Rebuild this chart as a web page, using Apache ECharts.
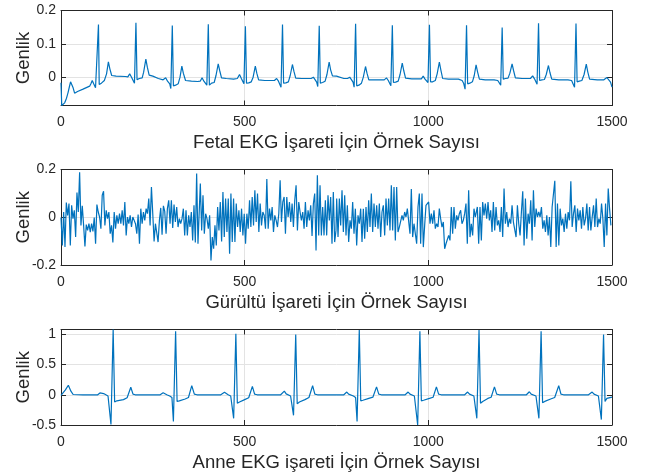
<!DOCTYPE html>
<html><head><meta charset="utf-8">
<script src="https://cdn.jsdelivr.net/npm/echarts@6/dist/echarts.min.js"></script>
<style>html,body{margin:0;padding:0;background:#fff}#c{width:654px;height:473px}</style>
</head><body><div id="c"></div>
<script>
// ---- tick labels / titles ----
const xTicks = [0, 500, 1000, 1500];
const fetalYTicks = [0, 0.1, 0.2];
const noiseYTicks = [-0.2, 0, 0.2];
const motherYTicks = [-0.5, 0, 0.5, 1];
const xTitles = ['Fetal EKG İşareti İçin Örnek Sayısı', 'Gürültü İşareti İçin Örnek Sayısı', 'Anne EKG işareti İçin Örnek Sayısı'];
const yTitle = 'Genlik';

// ---- Fetal ECG vertices [sample, amplitude] ----
const fetalSignal = [
[0,-0.017],[2,-0.085],[6,-0.082],[10,-0.077],[15,-0.063],[19,-0.047],[23,-0.028],[26,-0.014],[28,-0.01],[30,-0.018],[33,-0.032],[37,-0.048],[45,-0.043],[60,-0.036],[72,-0.03],[78,-0.027],[82,-0.018],[85,-0.01],[89,-0.02],[94,-0.032],[99,-0.028],[102,0.158],[104,-0.022],[110,-0.018],[118,-0.01],[124,0.01],[129,0.046],[133,0.025],[138,0.005],[150,0.003],[175,0.002],
[182,0.001],[187,0.01],[192,0.0],[196,-0.005],[200,-0.018],[204,0.163],[207,-0.008],[213,-0.004],[221,-0.002],[225,0.015],[231,0.054],[235,0.03],[240,0.006],[250,0.003],[265,-0.004],
[278,-0.008],[285,-0.002],[290,-0.012],[296,-0.02],[299,-0.034],[303,0.155],[306,-0.026],[312,-0.024],[319,-0.02],[324,0.0],[329,0.033],[333,0.012],[339,-0.01],[355,-0.012],[372,-0.013],
[379,-0.012],[384,-0.002],[389,-0.012],[393,-0.013],[397,-0.024],[401,0.159],[404,-0.024],[410,-0.018],[417,-0.016],[422,0.005],[428,0.04],[432,0.02],[437,-0.002],[450,-0.004],[470,-0.006],
[480,-0.004],[486,0.008],[491,-0.004],[495,-0.008],[498,-0.02],[502,0.153],[505,-0.018],[511,-0.017],[518,-0.014],[523,0.0],[529,0.033],[533,0.012],[538,-0.008],[555,-0.01],[570,-0.01],
[581,-0.01],[587,-0.004],[592,-0.012],[596,-0.018],[599,-0.03],[603,0.158],[606,-0.018],[612,-0.017],[619,-0.014],[624,0.005],[630,0.038],[634,0.018],[639,-0.003],[655,-0.004],[672,-0.004],
[681,-0.004],[687,0.0],[692,-0.008],[696,-0.015],[699,-0.028],[703,0.154],[706,-0.018],[712,-0.016],[719,-0.012],[724,0.008],[730,0.045],[734,0.022],[739,0.004],[750,0.003],[770,-0.004],
[780,-0.004],[786,0.0],[791,-0.008],[795,-0.015],[798,-0.03],[802,0.16],[805,-0.026],[811,-0.024],[818,-0.018],[823,0.0],[829,0.032],[833,0.012],[838,-0.008],[855,-0.008],[870,-0.008],
[880,-0.008],[886,-0.002],[891,-0.01],[895,-0.014],[898,-0.026],[902,0.156],[905,-0.016],[911,-0.015],[918,-0.012],[923,0.008],[929,0.042],[933,0.02],[938,-0.003],[955,-0.005],[970,-0.005],
[981,-0.005],[986,0.003],[991,-0.006],[995,-0.01],[999,-0.016],[1003,0.157],[1006,-0.014],[1012,-0.014],[1019,-0.01],[1024,0.01],[1030,0.045],[1034,0.022],[1039,-0.004],[1055,-0.006],[1072,-0.006],
[1082,-0.006],[1087,-0.004],[1092,-0.01],[1096,-0.018],[1100,-0.036],[1104,0.156],[1107,-0.02],[1113,-0.018],[1120,-0.014],[1125,0.005],[1130,0.037],[1134,0.016],[1139,-0.006],[1155,-0.008],[1170,-0.008],
[1179,-0.008],[1184,-0.003],[1189,-0.01],[1193,-0.014],[1197,-0.024],[1201,0.149],[1204,-0.006],[1210,-0.004],[1217,-0.003],[1222,0.012],[1228,0.04],[1232,0.02],[1237,-0.002],[1255,-0.004],[1270,-0.004],
[1278,-0.004],[1284,0.004],[1289,-0.005],[1293,-0.01],[1296,-0.021],[1300,0.162],[1303,-0.01],[1309,-0.008],[1316,-0.007],[1321,0.008],[1327,0.035],[1331,0.014],[1336,-0.006],[1355,-0.008],[1372,-0.008],
[1380,-0.008],[1385,-0.004],[1390,-0.01],[1394,-0.015],[1398,-0.03],[1402,0.161],[1405,-0.014],[1411,-0.012],[1418,-0.01],[1424,0.008],[1430,0.039],[1434,0.016],[1439,-0.006],[1460,-0.008],[1478,-0.008],[1483,-0.003],[1486,-0.001],[1490,-0.006],[1496,-0.015],[1500,-0.03]
];

// ---- Noise: values read in four stretches; each stretch spans [start, end] samples ----
const noiseSpans = [[0, 372.9], [379.3, 748.6], [750.5, 1127.9], [1133.4, 1497]];
const noiseA = [-0.001,-0.118,0.022,-0.125,0.062,0.008,0.057,-0.118,0.050,-0.006,0.029,-0.083,0.104,0.022,0.188,-0.034,0.048,-0.034,-0.122,-0.031,-0.055,-0.027,-0.062,-0.027,-0.059,-0.001,-0.111,0.053,0.022,0.001,-0.048,0.092,0.109,-0.034,0.029,-0.006,0.022,-0.069,-0.034,-0.106,0.022,-0.048,0.008,-0.027,0.015,-0.027,0.029,-0.034,0.064,-0.076,0.001,-0.027,0.008,-0.041,0.001,-0.013,-0.027,-0.069,0.011,-0.111,0.036,-0.027,0.022,-0.013,0.036,0.015,0.078,-0.034,0.127,0.015,-0.101,-0.027,-0.020,-0.104,-0.013,0.039,-0.073,0.048,0.025,-0.069,0.036,0.071,-0.027,0.071,-0.045,0.053,-0.020,0.043,-0.041,-0.006,-0.027,-0.006,0.036,-0.076,0.029,-0.076,0.008,-0.041,0.022,-0.097,0.050,-0.106,0.183,-0.111];
const noiseB = [0.141,-0.055,0.092,-0.069,0.015,-0.006,-0.048,0.008,-0.181,-0.083,-0.132,-0.034,-0.118,0.043,-0.055,0.064,-0.101,0.106,-0.083,0.078,-0.062,0.078,-0.153,0.099,-0.104,0.078,-0.104,0.057,-0.041,0.029,-0.062,0.036,-0.076,0.015,-0.111,0.015,-0.048,0.071,-0.041,0.085,-0.034,0.113,-0.020,0.099,-0.062,0.057,-0.034,0.022,0.008,-0.048,0.160,-0.048,0.036,-0.013,0.043,-0.062,0.008,-0.013,-0.041,0.015,0.155,-0.020,0.064,0.085,-0.069,0.085,0.001,0.064,-0.020,0.057,-0.041,0.071,0.134,-0.055,0.064,0.022,-0.013,0.022,-0.048,0.064,-0.041,0.029,-0.013,0.050,-0.078,0.057,0.099,-0.139,0.176,-0.076,0.134,-0.076,0.043,-0.076,0.071,-0.076,0.092,-0.013,0.085,-0.111,0.106,-0.104,-0.055];
const noiseC = [0.078,-0.083,0.078,-0.034,0.113,-0.062,0.092,-0.076,0.050,-0.104,-0.013,-0.048,0.064,-0.069,0.036,-0.118,0.008,-0.027,0.036,-0.104,0.036,-0.090,0.043,-0.062,0.071,-0.041,0.099,-0.062,0.057,-0.041,0.050,-0.048,0.057,-0.083,0.022,0.050,-0.076,0.078,-0.034,0.078,-0.055,0.134,-0.055,0.127,-0.097,0.127,-0.062,-0.041,-0.034,0.008,-0.013,0.022,0.001,0.036,0.043,-0.069,0.118,-0.083,-0.027,-0.020,-0.111,0.043,0.099,-0.111,0.099,-0.125,-0.034,0.050,0.043,0.064,-0.027,0.015,-0.027,0.029,-0.048,-0.027,-0.041,0.036,-0.006,-0.041,-0.020,-0.132,-0.111,-0.111,-0.076,-0.097,0.043,-0.069,0.043,-0.048,0.008,-0.013,0.015,0.029,-0.027,-0.013,0.015,0.057,-0.111,0.113,-0.083,-0.027,-0.076,0.036,0.001];
const noiseD = [0.043,-0.111,0.043,-0.097,0.064,0.008,0.057,-0.006,0.064,-0.013,0.029,-0.062,0.064,-0.055,0.043,-0.034,-0.013,-0.062,0.043,-0.083,0.120,-0.027,0.022,-0.041,-0.006,-0.027,0.050,-0.020,-0.020,-0.083,0.050,-0.027,-0.076,0.022,0.109,-0.118,0.078,-0.090,0.015,-0.027,0.071,-0.097,0.113,-0.041,0.036,0.001,0.022,0.001,0.043,-0.048,-0.013,-0.062,0.008,-0.076,0.001,-0.125,0.043,0.036,0.153,-0.125,0.057,-0.118,0.036,-0.034,-0.006,-0.062,0.015,-0.048,0.022,-0.013,0.151,-0.041,0.015,0.050,-0.062,0.036,-0.013,0.029,-0.048,0.043,-0.034,-0.006,0.057,-0.055,0.043,-0.055,0.001,0.050,-0.041,0.078,-0.041,-0.006,-0.027,0.057,-0.006,-0.125,0.057,-0.076,0.120,0.036,-0.034];

// ---- Maternal ECG vertices [sample, amplitude] ----
const motherSignal = [
[0,-0.01],[4,0.0],[12,0.08],[20,0.157],[27,0.06],[33,0.005],[60,0.0],[100,0.0],[106,0.03],[111,0.06],[116,0.02],[121,0.0],[128,-0.02],[133,-0.045],[136,-0.49],[142,1.08],[146,-0.12],[152,-0.1],[170,-0.08],[180,-0.05],[184,-0.02],[190,0.125],[196,0.01],[202,0.0],
[270,0.0],[274,0.015],[278,0.033],[283,0.01],[288,0.0],[296,-0.02],[302,-0.045],[306,-0.44],[312,1.05],[316,-0.11],[322,-0.1],[338,-0.07],[347,-0.045],[350,-0.02],[356,0.15],[363,0.01],[370,0.0],
[435,0.0],[440,0.015],[445,0.04],[450,0.01],[455,0.0],[462,-0.02],[467,-0.045],[470,-0.39],[476,1.01],[480,-0.14],[486,-0.12],[500,-0.08],[511,-0.05],[514,-0.02],[521,0.14],[527,0.01],[534,0.0],
[598,0.0],[603,0.02],[608,0.06],[613,0.015],[618,0.0],[625,-0.02],[630,-0.045],[633,-0.34],[639,0.995],[643,-0.15],[649,-0.12],[664,-0.08],[675,-0.045],[678,-0.02],[685,0.15],[691,0.01],[698,0.0],
[770,0.0],[774,0.02],[778,0.045],[783,0.01],[788,0.0],[796,-0.02],[802,-0.045],[806,-0.44],[812,1.07],[816,-0.1],[822,-0.09],[838,-0.06],[849,-0.04],[852,-0.02],[859,0.13],[865,0.01],[872,0.0],
[937,0.0],[941,0.02],[945,0.045],[950,0.01],[955,0.0],[962,-0.02],[967,-0.045],[971,-0.5],[977,1.05],[981,-0.1],[987,-0.09],[1003,-0.06],[1013,-0.04],[1016,-0.02],[1022,0.13],[1028,0.01],[1035,0.0],
[1099,0.0],[1103,0.02],[1107,0.045],[1112,0.01],[1117,0.0],[1124,-0.02],[1129,-0.045],[1132,-0.39],[1138,1.07],[1142,-0.14],[1148,-0.11],[1162,-0.06],[1171,-0.04],[1174,-0.02],[1180,0.13],[1186,0.01],[1193,0.0],
[1267,0.0],[1271,0.02],[1275,0.05],[1280,0.01],[1285,0.0],[1293,-0.02],[1298,-0.045],[1301,-0.39],[1307,1.05],[1311,-0.13],[1317,-0.11],[1333,-0.07],[1344,-0.045],[1347,-0.02],[1355,0.15],[1361,0.01],[1368,0.0],
[1436,0.0],[1441,0.02],[1446,0.045],[1451,0.01],[1456,0.0],[1463,-0.02],[1468,-0.045],[1471,-0.41],[1477,0.995],[1481,-0.11],[1486,-0.06],[1500,-0.04]
];

// ---- build noise series points from the stretches ----
const noiseSignal = [];
[noiseA, noiseB, noiseC, noiseD].forEach((vals, k) => {
  const [s0, s1] = noiseSpans[k];
  const n = vals.length;
  vals.forEach((v, i) => noiseSignal.push([s0 + (s1 - s0) * i / (n - 1), v]));
});

const FONT = 'Liberation Sans, Arial, Helvetica, sans-serif';
const TXT = '#262626';
const AX = '#262626';
const GRIDC = '#e3e3e3';
const LINE = '#0072BD';
const plain = v => String(v);

const grids = [
  {left: 61, top: 10.5, width: 551, height: 95, outerBoundsMode: 'none', containLabel: false},
  {left: 61, top: 169.5, width: 551, height: 95.5, outerBoundsMode: 'none', containLabel: false},
  {left: 61, top: 329.5, width: 551, height: 95.5, outerBoundsMode: 'none', containLabel: false}
];
const yRanges = [[-0.085, 0.2, fetalYTicks], [-0.2, 0.2, noiseYTicks], [-0.5, 1.08, motherYTicks]];
const seriesData = [fetalSignal, noiseSignal, motherSignal];

const xAxes = [], yAxes = [], series = [];
grids.forEach((g, i) => {
  const [ymin, ymax, yt] = yRanges[i];
  xAxes.push({
    gridIndex: i, type: 'value', min: 0, max: 1500, position: 'bottom',
    axisLine: {show: true, onZero: false, lineStyle: {color: AX, width: 1}},
    axisTick: {show: true, inside: true, length: 5, customValues: xTicks, lineStyle: {color: AX}},
    axisLabel: {show: true, customValues: xTicks, formatter: plain, margin: 10, fontSize: 14, color: TXT, fontFamily: FONT},
    splitLine: {show: true, lineStyle: {color: GRIDC, width: 1}},
    name: xTitles[i], nameLocation: 'middle', nameGap: 28, nameMoveOverlap: false,
    nameTextStyle: {fontSize: 18.5, color: TXT, fontFamily: FONT}
  });
  xAxes.push({
    gridIndex: i, type: 'value', min: 0, max: 1500, position: 'top',
    axisLine: {show: true, onZero: false, lineStyle: {color: AX, width: 1}},
    axisTick: {show: true, inside: true, length: 5, customValues: xTicks, lineStyle: {color: AX}},
    axisLabel: {show: false}, splitLine: {show: false}
  });
  yAxes.push({
    gridIndex: i, type: 'value', min: ymin, max: ymax, position: 'left',
    axisLine: {show: true, onZero: false, lineStyle: {color: AX, width: 1}},
    axisTick: {show: true, inside: true, length: 5, customValues: yt, lineStyle: {color: AX}},
    axisLabel: {show: true, customValues: yt, formatter: plain, margin: 5, fontSize: 14, color: TXT, fontFamily: FONT},
    splitLine: {show: true, lineStyle: {color: GRIDC, width: 1}},
    name: yTitle, nameLocation: 'middle', nameGap: 28, nameRotate: 90, nameMoveOverlap: false,
    nameTextStyle: {fontSize: 18.5, color: TXT, fontFamily: FONT}
  });
  yAxes.push({
    gridIndex: i, type: 'value', min: ymin, max: ymax, position: 'right',
    axisLine: {show: true, onZero: false, lineStyle: {color: AX, width: 1}},
    axisTick: {show: true, inside: true, length: 5, customValues: yt, lineStyle: {color: AX}},
    axisLabel: {show: false}, splitLine: {show: false}
  });
  series.push({
    type: 'line', xAxisIndex: i * 2, yAxisIndex: i * 2,
    data: seriesData[i], showSymbol: false, symbol: 'none',
    lineStyle: {color: LINE, width: 1.2}, itemStyle: {color: LINE},
    animation: false, silent: true
  });
});

const chart = echarts.init(document.getElementById('c'), null, {renderer: 'canvas'});
chart.setOption({
  backgroundColor: '#ffffff',
  animation: false,
  grid: grids,
  xAxis: xAxes,
  yAxis: yAxes,
  series: series
});
</script>
</body></html>
